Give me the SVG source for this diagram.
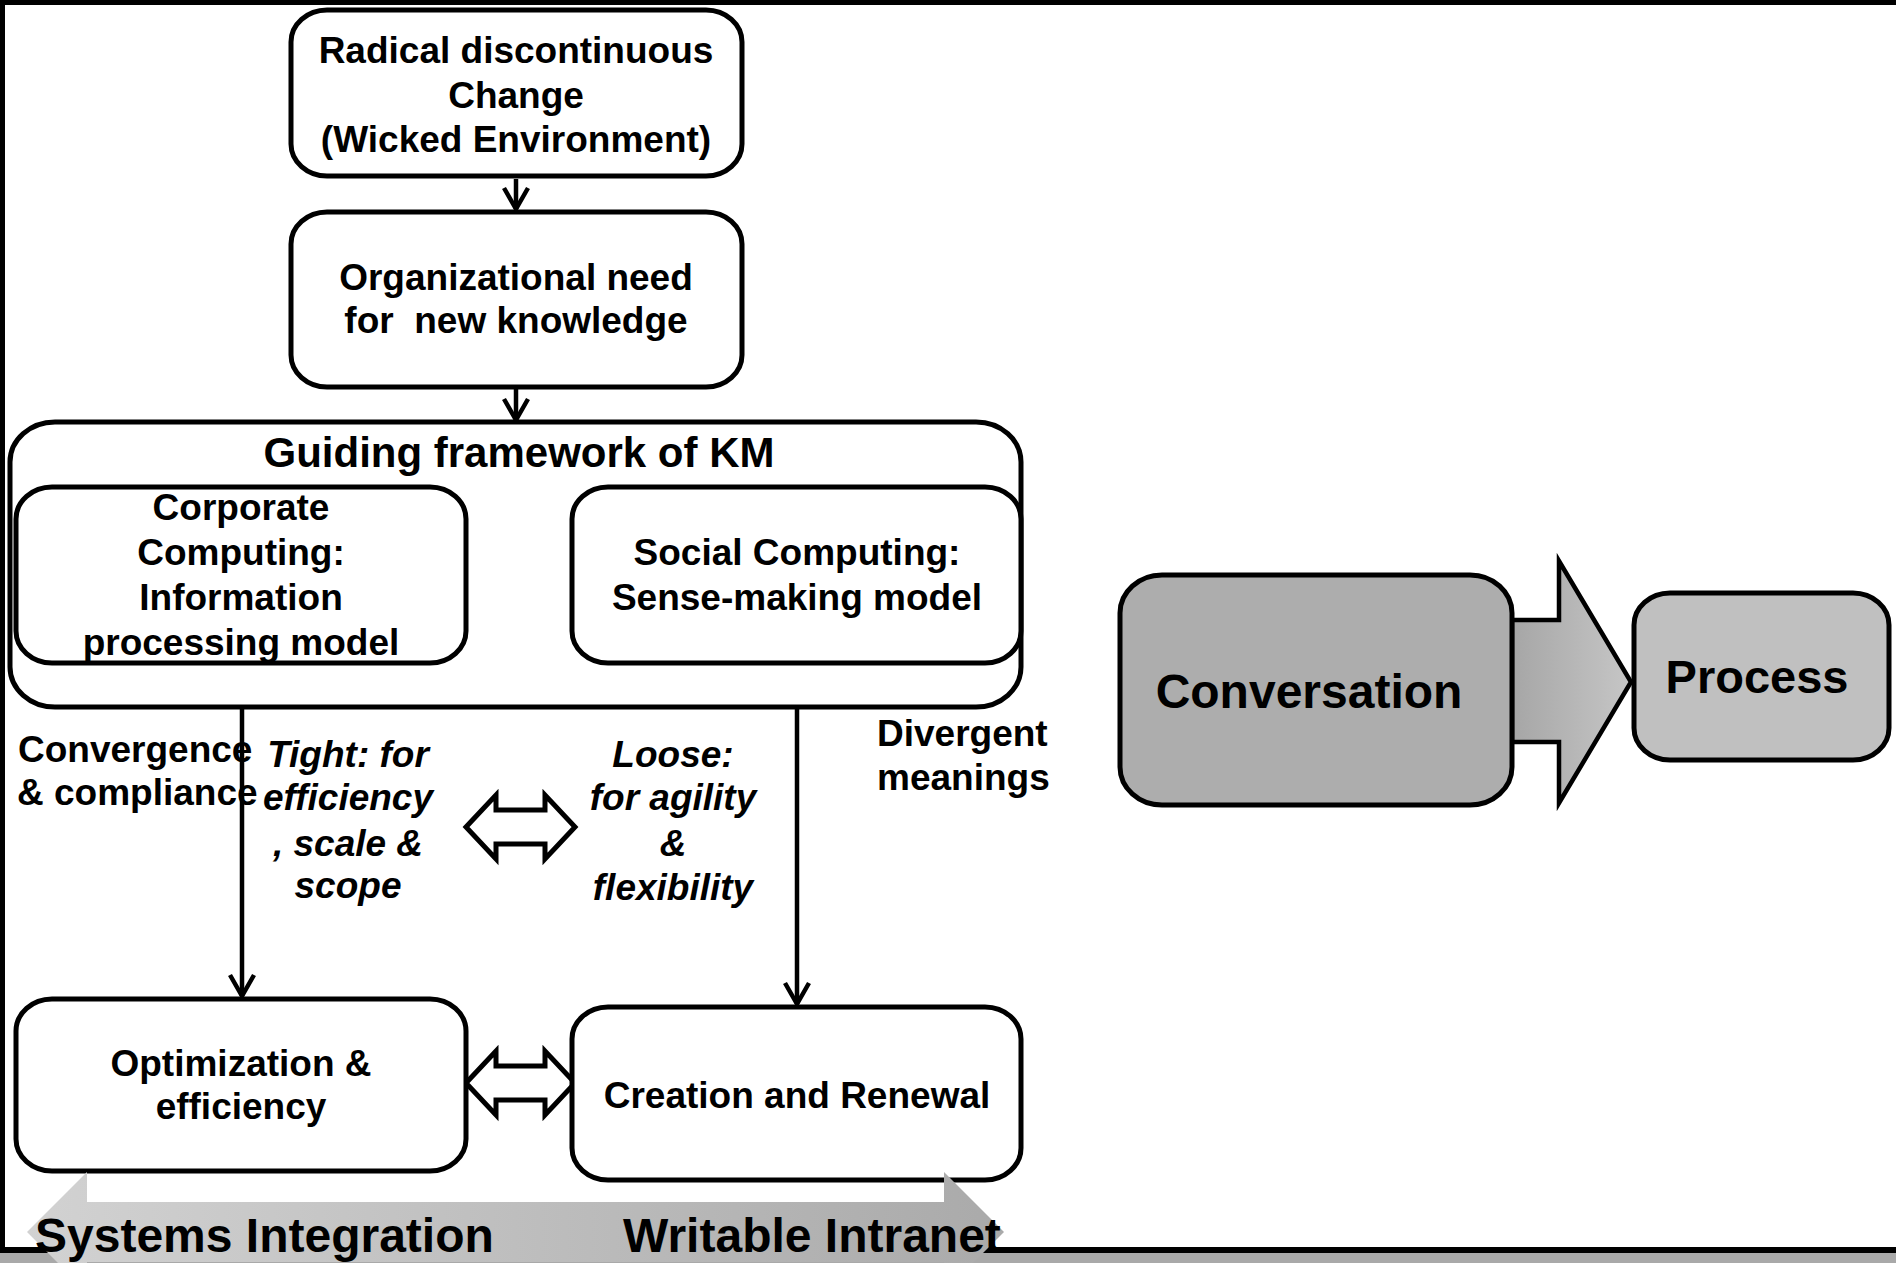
<svg xmlns="http://www.w3.org/2000/svg" width="1896" height="1263" viewBox="0 0 1896 1263">
<style>
.box{fill:#fff;stroke:#000;stroke-width:5}
.t{font-family:"Liberation Sans",Arial,sans-serif;font-weight:bold;font-size:37px;fill:#000;text-anchor:middle}
.l{text-anchor:start}
.i{font-style:italic}
.conn{stroke:#000;stroke-width:4.5;fill:none}
.blk{fill:#fff;stroke:#000;stroke-width:5;stroke-linejoin:miter}
</style>
<defs>
<marker id="ah" markerUnits="userSpaceOnUse" markerWidth="30" markerHeight="30" viewBox="-24 -15 28 30" refX="0" refY="0" orient="auto">
<path d="M-21,-12 L0,0 L-21,12" fill="none" stroke="#000" stroke-width="4.5"/>
</marker>
<linearGradient id="gbig" x1="0" y1="0" x2="1" y2="0">
<stop offset="0" stop-color="#a6a6a6"/>
<stop offset="1" stop-color="#c6c6c6"/>
</linearGradient>
<linearGradient id="gbot" x1="0" y1="0" x2="1" y2="0">
<stop offset="0" stop-color="#d2d2d2"/>
<stop offset="1" stop-color="#aaaaaa"/>
</linearGradient>
</defs>
<rect x="0" y="0" width="1896" height="1263" fill="#fff"/>
<!-- frame -->
<rect x="0" y="0" width="1896" height="5" fill="#000"/>
<rect x="0" y="0" width="5" height="1252" fill="#000"/>
<rect x="0" y="1247" width="1896" height="6" fill="#000"/>
<rect x="0" y="1253" width="1896" height="10" fill="#a9a9a9"/>

<g id="connectors">
<line class="conn" x1="516" y1="179" x2="516" y2="209" marker-end="url(#ah)"/>
<line class="conn" x1="516" y1="387" x2="516" y2="420" marker-end="url(#ah)"/>
<line class="conn" x1="242" y1="663" x2="242" y2="996" marker-end="url(#ah)"/>
<line class="conn" x1="797" y1="663" x2="797" y2="1004" marker-end="url(#ah)"/>
<polygon class="blk" points="469,572 499,540 499,555 541,555 541,540 571,572 541,604 541,589 499,589 499,604"/>
<polygon class="blk" points="466,827 496,795 496,810 545,810 545,795 575,827 545,859 545,844 496,844 496,859"/>
<polygon class="blk" points="466,1083 496,1051 496,1066 545,1066 545,1051 575,1083 545,1115 545,1100 496,1100 496,1115"/>
<polygon points="1512,620 1559,620 1559,561 1631,682 1559,803 1559,742 1512,742" fill="url(#gbig)" stroke="#000" stroke-width="4.5" stroke-linejoin="miter"/>
</g>

<g id="radical">
<rect class="box" x="291" y="10" width="451" height="166" rx="36" ry="32"/>
<text class="t" x="516" y="63">Radical discontinuous</text>
<text class="t" x="516" y="108">Change</text>
<text class="t" x="516" y="152">(Wicked Environment)</text>
</g>

<g id="orgneed">
<rect class="box" x="291" y="212" width="451" height="175" rx="36" ry="32"/>
<text class="t" x="516" y="290">Organizational need</text>
<text class="t" x="516" y="333" xml:space="preserve" style="white-space:pre">for  new knowledge</text>
</g>

<g id="guiding">
<rect class="box" x="10" y="422" width="1011" height="285" rx="45" ry="40"/>
<text class="t" x="519" y="467" style="font-size:42px">Guiding framework of KM</text>
</g>

<g id="corporate">
<rect class="box" x="16" y="487" width="450" height="176" rx="36" ry="32"/>
<text class="t" x="241" y="520">Corporate</text>
<text class="t" x="241" y="565">Computing:</text>
<text class="t" x="241" y="610">Information</text>
<text class="t" x="241" y="655">processing model</text>
</g>

<g id="social">
<rect class="box" x="572" y="487" width="449" height="176" rx="36" ry="32"/>
<text class="t" x="797" y="565">Social Computing:</text>
<text class="t" x="797" y="610">Sense-making model</text>
</g>

<g id="labels">
<text class="t l" x="18" y="762">Convergence</text>
<text class="t l" x="17" y="805">&amp; compliance</text>
<text class="t i" x="348" y="767">Tight: for</text>
<text class="t i" x="348" y="810">efficiency</text>
<text class="t i" x="348" y="856">, scale &amp;</text>
<text class="t i" x="348" y="898">scope</text>
<text class="t i" x="673" y="767">Loose:</text>
<text class="t i" x="673" y="810">for agility</text>
<text class="t i" x="673" y="856">&amp;</text>
<text class="t i" x="673" y="900">flexibility</text>
<text class="t l" x="877" y="746">Divergent</text>
<text class="t l" x="877" y="790">meanings</text>
</g>

<g id="optimization">
<rect class="box" x="16" y="999" width="450" height="172" rx="36" ry="32"/>
<text class="t" x="241" y="1076">Optimization &amp;</text>
<text class="t" x="241" y="1119">efficiency</text>
</g>

<g id="creation">
<rect class="box" x="572" y="1007" width="449" height="173" rx="36" ry="32"/>
<text class="t" x="797" y="1108">Creation and Renewal</text>
</g>

<g id="integration-arrow">
<polygon points="27,1232 87,1172 87,1202 944,1202 944,1172 1004,1232 944,1292 944,1262 87,1262 87,1292" fill="url(#gbot)"/>
<text class="t l" x="35" y="1252" style="font-size:48px">Systems Integration</text>
<text class="t l" x="623" y="1252" style="font-size:48px">Writable Intranet</text>
</g>

<g id="conversation">
<rect x="1120" y="575" width="392" height="230" rx="42" ry="38" fill="#adadad" stroke="#000" stroke-width="5"/>
<text class="t" x="1309" y="708" style="font-size:48px">Conversation</text>
</g>

<g id="process">
<rect x="1634" y="593" width="255" height="167" rx="36" ry="32" fill="#c0c0c0" stroke="#000" stroke-width="5"/>
<text class="t" x="1757" y="693" style="font-size:47px">Process</text>
</g>
</svg>
